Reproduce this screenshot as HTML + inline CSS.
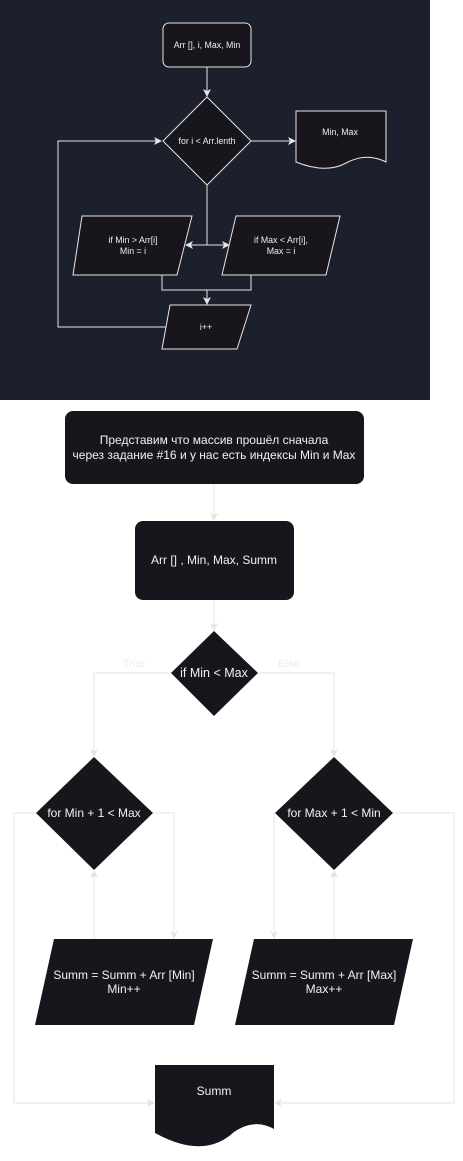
<!DOCTYPE html>
<html><head><meta charset="utf-8"><style>
html,body{margin:0;padding:0;background:#fff;}
svg{display:block;font-family:"Liberation Sans","Noto Sans CJK SC",sans-serif;}
</style></head><body>
<svg width="463" height="1161" viewBox="0 0 463 1161" xmlns="http://www.w3.org/2000/svg">
<defs>
<marker id="aw" markerWidth="8" markerHeight="8" refX="7" refY="4" orient="auto" markerUnits="userSpaceOnUse"><path d="M0,0 L8,4 L0,8 L2,4 z" fill="#e6e6e6"/></marker>
<marker id="ag" markerWidth="8" markerHeight="8" refX="7" refY="4" orient="auto" markerUnits="userSpaceOnUse"><path d="M0,0 L8,4 L0,8 L2,4 z" fill="#e4e4e4"/></marker>
</defs>
<rect x="0" y="0" width="430" height="400" fill="#1c202c"/>
<g stroke="#e6e6e6" stroke-width="1" fill="#18151c">
<rect x="163" y="23" width="88" height="44" rx="6"/>
<line x1="207" y1="67" x2="207" y2="96" marker-end="url(#aw)"/>
<polygon points="207,97 251,141 207,185 163,141"/>
<line x1="251" y1="141" x2="295" y2="141" marker-end="url(#aw)"/>
<path d="M296,111 H386 V162 Q366,152 346,163 Q326,174 296,162 Z"/>
<polyline points="207,185 207,245" fill="none"/>
<line x1="207" y1="245" x2="186" y2="245" marker-end="url(#aw)"/>
<line x1="207" y1="245" x2="229" y2="245" marker-end="url(#aw)"/>
<polygon points="82,216 192,216 177,275 73,275"/>
<polygon points="236,216 340,216 326,275 222,275"/>
<polyline points="162,275 162,290 251,290 251,275" fill="none"/>
<line x1="207" y1="290" x2="207" y2="304" marker-end="url(#aw)"/>
<polygon points="170,305 251,305 237,349 162,349"/>
<polyline points="166,327 58,327 58,141 161,141" fill="none" marker-end="url(#aw)"/>
</g>
<g fill="#eeeeee" font-size="8.8" text-anchor="middle">
<text x="207" y="48">Arr [], i, Max, Min</text>
<text x="207" y="144">for i &lt; Arr.lenth</text>
<text x="340" y="135">Min, Max</text>
<text x="133" y="243">if Min &gt; Arr[i]</text>
<text x="133" y="254">Min = i</text>
<text x="281" y="243">if Max &lt; Arr[i],</text>
<text x="281" y="254">Max = i</text>
<text x="206" y="330">i++</text>
</g>
<g stroke="#e4e4e4" stroke-width="1" fill="none">
<line x1="214" y1="484" x2="214" y2="520" marker-end="url(#ag)"/>
<line x1="214" y1="600" x2="214" y2="630" marker-end="url(#ag)"/>
<polyline points="171,673 94,673 94,756" marker-end="url(#ag)"/>
<polyline points="258,673 334,673 334,756" marker-end="url(#ag)"/>
<polyline points="153,813 174,813 174,938" marker-end="url(#ag)"/>
<line x1="94" y1="939" x2="94" y2="871" marker-end="url(#ag)"/>
<polyline points="275,813 274,813 274,938" marker-end="url(#ag)"/>
<line x1="334" y1="939" x2="334" y2="871" marker-end="url(#ag)"/>
<polyline points="36,813 14,813 14,1103 154,1103" marker-end="url(#ag)"/>
<polyline points="393,813 454,813 454,1103 275,1103" marker-end="url(#ag)"/>
</g>
<g fill="#18151c">
<rect x="65" y="411" width="299" height="73" rx="8"/>
<rect x="135" y="521" width="159" height="79" rx="8"/>
<polygon points="214,631 258,673 214,716 171,673"/>
<polygon points="94,757 153,813 94,870 36,813"/>
<polygon points="334,757 393,813 334,870 275,813"/>
<polygon points="54,939 213,939 194,1025 35,1025"/>
<polygon points="254,939 413,939 394,1025 235,1025"/>
<path d="M155,1065 H274 V1129 Q254,1118 234,1132 Q204,1160 155,1133 Z"/>
</g>
<g fill="#f2f2f2" font-size="12" text-anchor="middle">
<text x="214" y="444">Представим что массив прошёл сначала</text>
<text x="214" y="459">через задание #16 и у нас есть индексы Min и Max</text>
<text x="214" y="564">Arr [] , Min, Max, Summ</text>
<text x="214" y="677" font-size="12.5">if Min &lt; Max</text>
<text x="94" y="817">for Min + 1 &lt; Max</text>
<text x="334" y="817">for Max + 1 &lt; Min</text>
<text x="124" y="979">Summ = Summ + Arr [Min]</text>
<text x="124" y="993">Min++</text>
<text x="324" y="979">Summ = Summ + Arr [Max]</text>
<text x="324" y="993">Max++</text>
<text x="214" y="1095">Summ</text>
</g>
<g fill="#ececec" font-size="11" text-anchor="middle">
<text x="134" y="667">True</text>
<text x="289" y="667">Else</text>
</g>
</svg>
</body></html>
